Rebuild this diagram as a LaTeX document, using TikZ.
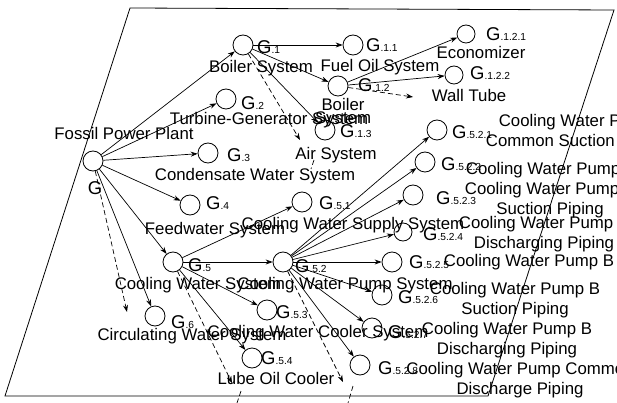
\documentclass[tikz,border=0pt]{standalone}
\usepackage{fontspec}
\setmainfont{Liberation Sans}
\usetikzlibrary{arrows.meta}
\newcommand{\gl}[1]{{\fontsize{18.5}{18}\selectfont G}{\fontsize{10.2}{10}\selectfont #1}}
\tikzset{
  circ/.style={circle,draw,line width=0.8pt,minimum size=20pt,inner sep=0pt},
  circs/.style={circ,minimum size=18pt},
  arr/.style={line width=0.7pt,-{Stealth[length=7pt,width=5pt]}},
  darr/.style={line width=0.7pt,dash pattern=on 5pt off 3pt,-{Stealth[length=7pt,width=5pt]}},
  dseg/.style={line width=0.7pt,dash pattern=on 5pt off 3pt},
  txt/.style={inner sep=0pt,font=\fontsize{16.8}{20}\selectfont,align=center},
  gtxt/.style={inner sep=0pt,anchor=west},
  frame/.style={line width=0.8pt}
}
\begin{document}
\begin{tikzpicture}[x=1pt,y=-1pt]
\useasboundingbox (0,0) rectangle (617,403);
\clip (0,0) rectangle (617,403);
% frame
\draw[frame] (5,396) -- (130,8) -- (614,10) -- (488,396) -- cycle;
% circles
\node[circ] (r) at (93,161) {};
\node[circ] (g1) at (243,45) {};
\node[circ] (g2) at (226,99) {};
\node[circ] (g3) at (208,153) {};
\node[circ] (g4) at (190,205) {};
\node[circ] (g5) at (173,262) {};
\node[circ] (g6) at (155,316) {};
\node[circ] (g11) at (353,45) {};
\node[circ] (g12) at (338,86) {};
\node[circ] (g13) at (325,130) {};
\node[circs] (g121) at (466,34) {};
\node[circs] (g122) at (454,75) {};
\node[circ] (g51) at (302,202) {};
\node[circ] (g52) at (283,262) {};
\node[circ] (g53) at (267,310) {};
\node[circ] (g54) at (252,358) {};
\node[circ] (g521) at (437,130) {};
\node[circ] (g522) at (425,162) {};
\node[circ] (g523) at (413,195) {};
\node[circs] (g524) at (403,232) {};
\node[circ] (g525) at (392,262) {};
\node[circ] (g526) at (382,295) {};
\node[circ] (g527) at (372,328) {};
\node[circ] (g528) at (360,365) {};
% G labels
\node[inner sep=0pt] (lr) at (95,188) {\gl{}};
\node[gtxt] (l1) at (257,47) {\gl{.1}};
\node[gtxt] (l2) at (241,103) {\gl{.2}};
\node[gtxt] (l3) at (227,155) {\gl{.3}};
\node[gtxt] (l4) at (206,203) {\gl{.4}};
\node[gtxt] (l5) at (188,265) {\gl{.5}};
\node[gtxt] (l6) at (171,322) {\gl{.6}};
\node[gtxt] (l11) at (366,45) {\gl{.1.1}};
\node[gtxt] (l12) at (358,85) {\gl{.1.2}};
\node[gtxt] (l13) at (340,131) {\gl{.1.3}};
\node[gtxt] (l121) at (486,34) {\gl{.1.2.1}};
\node[gtxt] (l122) at (470,73) {\gl{.1.2.2}};
\node[gtxt] (l51) at (319,203) {\gl{.5.1}};
\node[gtxt] (l52) at (295,266) {\gl{.5.2}};
\node[gtxt] (l53) at (276,312) {\gl{.5.3}};
\node[gtxt] (l54) at (261,358) {\gl{.5.4}};
\node[gtxt] (l521) at (452,132) {\gl{.5.2.1}};
\node[gtxt] (l522) at (441,164) {\gl{.5.2.2}};
\node[gtxt] (l523) at (436,198) {\gl{.5.2.3}};
\node[gtxt] (l524) at (423,234) {\gl{.5.2.4}};
\node[gtxt] (l525) at (409,262) {\gl{.5.2.5}};
\node[gtxt] (l526) at (398,297) {\gl{.5.2.6}};
\node[gtxt] (l527) at (388,332) {\gl{.5.2.7}};
\node[gtxt] (l528) at (378,368) {\gl{.5.2.8}};
% name texts
\node[txt] (tr) at (124,133) {Fossil Power Plant};
\node[txt] (t1) at (261,68) {Boiler System};
\node[txt] (t2) at (269,120) {Turbine-Generator System};
\node[txt] (t3) at (255,176) {Condensate Water System};
\node[txt] (t4) at (215,230) {Feedwater System};
\node[txt] (t5) at (198,285) {Cooling Water System};
\node[txt] (t6) at (192,336) {Circulating Water System};
\node[txt] (t11) at (380,67) {Fuel Oil System};
\node[txt,font=\fontsize{16.8}{13}\selectfont] (t12) at (343,113) {Boiler\\System};
\node[txt] (t13) at (336,155) {Air System};
\node[txt] (t121) at (481,52) {Economizer};
\node[txt] (t122) at (469,95) {Wall Tube};
\node[txt] (t51) at (353,225) {Cooling Water Supply System};
\node[txt] (t52) at (345,285) {Cooling Water Pump System};
\node[txt] (t53) at (318,333) {Cooling Water Cooler System};
\node[txt] (t54) at (276,378) {Lube Oil Cooler};
\node[txt] (t521) at (576,132) {Cooling Water Pump\\Common Suction Piping};
\node[txt] (t522) at (551,170) {Cooling Water Pump A};
\node[txt] (t523) at (550,200) {Cooling Water Pump A\\Suction Piping};
\node[txt] (t524) at (544,234) {Cooling Water Pump A\\Discharging Piping};
\node[txt] (t525) at (529,262) {Cooling Water Pump B};
\node[txt] (t526) at (515,300) {Cooling Water Pump B\\Suction Piping};
\node[txt] (t527) at (507,340) {Cooling Water Pump B\\Discharging Piping};
\node[txt] (t528) at (520,380) {Cooling Water Pump Common\\Discharge Piping};
% connectors
\foreach \t in {g1,g2,g3,g4,g5,g6} \draw[arr] (r) -- (\t);
\foreach \t in {g11,g12,g13} \draw[arr] (g1) -- (\t);
\foreach \t in {g121,g122} \draw[arr] (g12) -- (\t);
\foreach \t in {g51,g52,g53,g54} \draw[arr] (g5) -- (\t);
\foreach \t in {g521,g522,g523,g524,g525,g526,g527,g528} \draw[arr] (g52) -- (\t);
% dashed continuations
\coordinate (d0) at (127,312);
\coordinate (d1) at (300,140);
\coordinate (d12) at (413,97);
\coordinate (d5) at (232,383);
\coordinate (d52) at (343,382);
\draw[darr] (r) -- (d0);
\draw[darr] (g1) -- (d1);
\draw[darr] (g12) -- (d12);
\draw[darr] (g5) -- (d5);
\draw[darr] (g52) -- (d52);
\coordinate (e1a) at (314,160); \coordinate (e1b) at (311,169);
\coordinate (e2a) at (241,391); \coordinate (e2b) at (237,403);
\coordinate (e3a) at (353,386); \coordinate (e3b) at (348,403);
\draw[dseg] (e1a) -- (e1b);
\draw[dseg] (e2a) -- (e2b);
\draw[dseg] (e3a) -- (e3b);
\end{tikzpicture}
\end{document}
